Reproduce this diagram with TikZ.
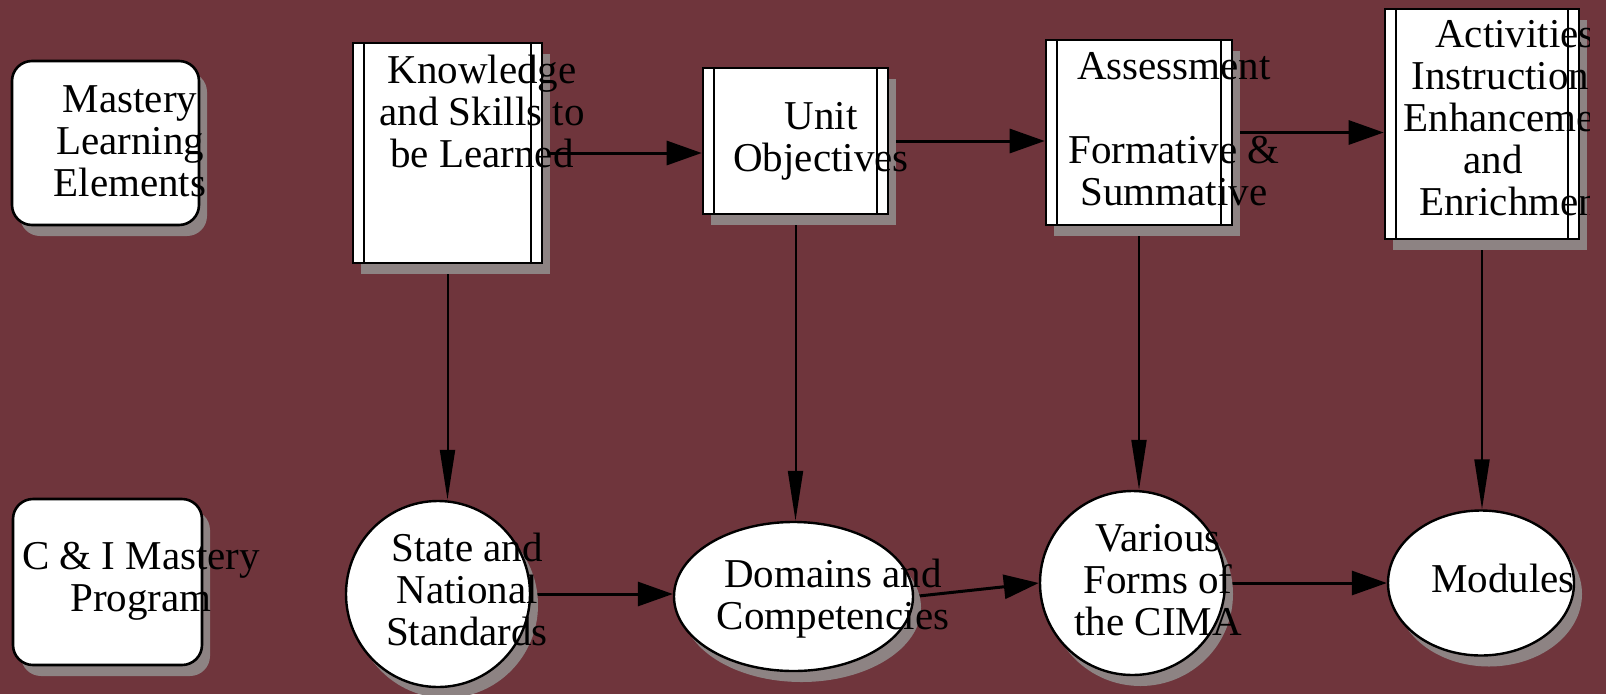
\documentclass[tikz,border=0pt]{standalone}
\usepackage{fontspec}
\setmainfont{Liberation Serif}
\usetikzlibrary{shapes.geometric,shadows,arrows.meta}
\definecolor{maroonbg}{RGB}{111,53,60}
\definecolor{shadowgray}{RGB}{141,131,131}
\pgfdeclarelayer{bg}
\pgfdeclarelayer{edges}
\pgfsetlayers{bg,edges,main}

\begin{document}
\begin{tikzpicture}[x=1pt,y=-1pt,
		castshadow/.style={drop shadow={shadow xshift=8pt,shadow yshift=-11pt,fill=shadowgray,opacity=1}},
		roundbox/.style={rectangle,draw=black,fill=white,line width=2.6pt,rounded corners=20pt,castshadow},
		procbox/.style={rectangle,draw=black,fill=white,line width=2.6pt,castshadow,path picture={
			\draw [black,line width=2pt] ([xshift=11pt]path picture bounding box.north west) -- ([xshift=11pt]path picture bounding box.south west);
			\draw [black,line width=2pt] ([xshift=-11pt]path picture bounding box.north east) -- ([xshift=-11pt]path picture bounding box.south east);}},
		oval/.style={ellipse,draw=black,fill=white,line width=2.4pt,castshadow},
		lbl/.style={anchor=base,align=center,font=\fontsize{41}{42}\selectfont},
		harrow/.style={line width=3pt,-{Triangle[length=35pt,width=24pt]}},
		varrow/.style={line width=2pt,-{Triangle[length=50pt,width=15pt]}}]
				\tikzstyle{every node}+=[inner sep=0pt]
				\useasboundingbox (0,0) rectangle (1606,694);
				\begin{pgfonlayer}{bg}
					\fill [maroonbg] (0,0) rectangle (1606,694);
				\end{pgfonlayer}
				\node [roundbox,minimum width=187pt,minimum height=164pt] (mle) at (105.5,143) {};
				\node [roundbox,minimum width=189pt,minimum height=166pt] (cip) at (107.5,582) {};
				\node [procbox,minimum width=189pt,minimum height=220pt] (know) at (447.5,153) {};
				\node [procbox,minimum width=185pt,minimum height=146pt] (unit) at (795.5,141) {};
				\node [procbox,minimum width=186pt,minimum height=185pt] (assess) at (1139,132.5) {};
				\node [procbox,minimum width=194pt,minimum height=230pt] (act) at (1482,124) {};
				\node [oval,minimum width=184pt,minimum height=186pt] (state) at (438,594) {};
				\node [oval,minimum width=239pt,minimum height=149pt] (dom) at (793.5,596.5) {};
				\node [oval,minimum width=185pt,minimum height=184pt] (var) at (1132.5,583) {};
				\node [oval,minimum width=186pt,minimum height=145pt] (mod) at (1481,583) {};
				\begin{pgfonlayer}{edges}
					\draw [black,harrow] (know.east) -- (know.east -| unit.west);
					\draw [black,harrow] (unit.east) -- (unit.east -| assess.west);
					\draw [black,harrow] (assess.east) -- (assess.east -| act.west);
					\draw [black,varrow] (know.south) -- (know.south |- state.north);
					\draw [black,varrow] (unit.south) -- (unit.south |- dom.north);
					\draw [black,varrow] (assess.south) -- (assess.south |- var.north);
					\draw [black,varrow] (act.south) -- (act.south |- mod.north);
					\draw [black,harrow] (state.east) -- (state.east -| dom.west);
					\draw [black,harrow] (dom.east) -- (var.west);
					\draw [black,harrow] (var.east) -- (var.east -| mod.west);
				\end{pgfonlayer}
				\node [lbl] (mletext) at (130,196) {Mastery\\Learning\\Elements};
				\node [lbl] (ciptext) at (141,611) {C \& I Mastery\\Program};
				\node [lbl] (knowtext) at (482,167) {Knowledge\\and Skills to\\be Learned};
				\node [lbl] (unittext) at (821,171) {Unit\\Objectives};
				\node [lbl] (assesstext) at (1174,205) {Assessment\\ \\Formative \&\\Summative};
				\begin{scope}
					\clip (1380,0) rectangle (1589,260);
					\node [lbl] (acttext) at (1515,215) {Activities\\Instructional\\Enhancement\\\hbox to 103pt{and\hfil}\\Enrichment};
				\end{scope}
				\node [lbl] (statetext) at (467,645) {State and\\National\\Standards};
				\node [lbl] (domtext) at (833,629) {Domains and\\Competencies};
				\node [lbl] (vartext) at (1158,635) {Various\\Forms of\\the CIMA};
				\node [lbl] (modtext) at (1503,592) {Modules};
\end{tikzpicture}
\end{document}
